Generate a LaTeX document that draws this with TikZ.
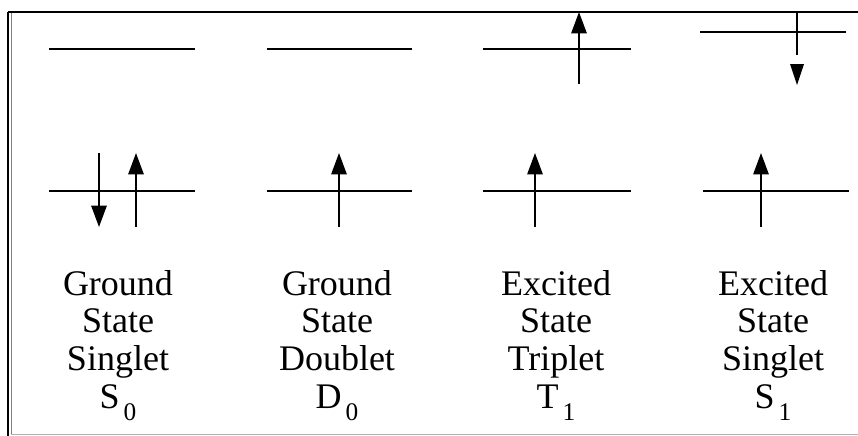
\documentclass[tikz,border=0pt]{standalone}
\usepackage{fontspec}
\setmainfont{Liberation Serif}
\usetikzlibrary{arrows.meta}
\tikzset{
  level/.style={line width=2pt},
  spin/.style={line width=1.3pt,-{Triangle[length=16pt,width=11.5pt]}},
  statelabel/.style={align=center,font=\fontsize{27}{28.3}\selectfont,inner sep=0pt,anchor=north},
}
\newcommand{\lowsub}[1]{\hspace{3pt}\raisebox{-9pt}{\fontsize{19}{19}\selectfont #1}}

\begin{document}
\begin{tikzpicture}[x=0.75pt,y=0.75pt,yscale=-1,xscale=1]
\useasboundingbox (0,0) rectangle (858,436);
% frame
\draw[line width=1.5pt] (8,12) -- (858,12);
\draw[line width=1.2pt] (8,11.5) -- (8,436);
\draw[line width=0.9pt,gray] (11.5,13) -- (11.5,434);
\draw[line width=0.8pt,gray!60] (11,434.5) -- (858,434.5);

% upper levels
\draw[level] (49,49) -- (195,49);
\draw[level] (267,49) -- (412,49);
\draw[level] (483,49) -- (631,49);
\draw[level] (700,32) -- (846,32);
% lower levels
\draw[level] (49,191) -- (195,191);
\draw[level] (267,191) -- (412,191);
\draw[level] (483,191) -- (631,191);
\draw[level] (703,191) -- (849,191);

% electrons
\draw[spin] (99,153) -- (99,227);
\draw[spin] (136,227) -- (136,153);
\draw[spin] (339,227) -- (339,153);
\draw[spin] (535,227) -- (535,153);
\draw[spin] (579,84) -- (579,12);
\draw[spin] (761,227) -- (761,153);
\draw[line width=1.3pt] (797,12) -- (797,55);
\fill (790,64) -- (804,64) -- (797,85) -- cycle;

% labels
\node[statelabel] (s0) at (118,270) {Ground\\State\\Singlet\\S\lowsub{0}};
\node[statelabel] (d0) at (337,270) {Ground\\State\\Doublet\\D\lowsub{0}};
\node[statelabel] (t1) at (556,270) {Excited\\State\\Triplet\\T\lowsub{1}};
\node[statelabel] (s1) at (773,270) {Excited\\State\\Singlet\\S\lowsub{1}};
\end{tikzpicture}
\end{document}
